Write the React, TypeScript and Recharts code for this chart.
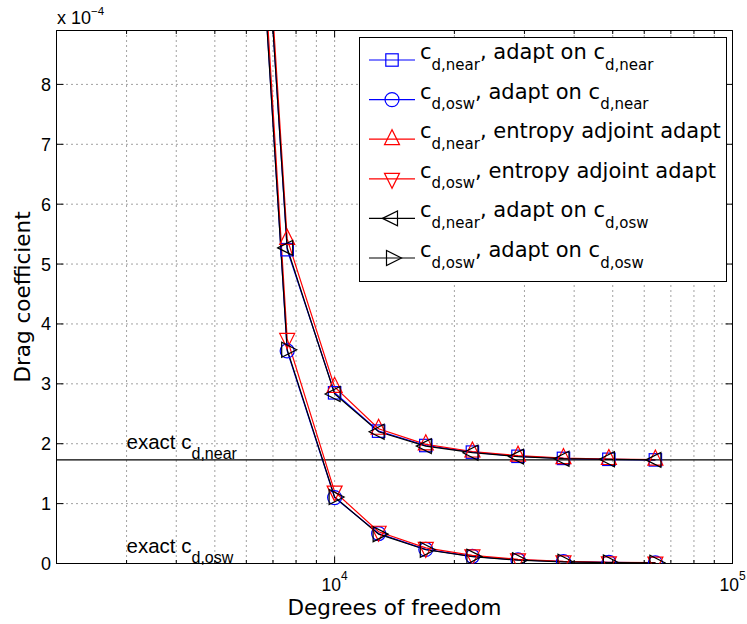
import React from 'react';
import { LineChart, Line, XAxis, YAxis, CartesianGrid, ReferenceLine, Legend } from 'recharts';

const SANS = '"Liberation Sans", Arial, Helvetica, sans-serif';
const WIDE = '"DejaVu Sans", Verdana, sans-serif';

// degrees of freedom at each adaptation step
const dof = [5900, 7600, 10000, 12900, 16950, 22200, 28900, 37600, 48900, 64000];

// drag coefficients, in units of 1e-4
const cdNearAdaptNear = [16.6, 5.24, 2.85, 2.21, 1.97, 1.86, 1.79, 1.755, 1.74, 1.73];
const cdOswAdaptNear = [15.3, 3.55, 1.1, 0.5, 0.235, 0.12, 0.06, 0.03, 0.018, 0.012];
const cdNearEntropy = [16.9, 5.42, 2.95, 2.25, 1.99, 1.87, 1.8, 1.76, 1.745, 1.735];
const cdOswEntropy = [15.6, 3.75, 1.2, 0.53, 0.26, 0.135, 0.07, 0.035, 0.02, 0.015];
const cdNearAdaptOsw = [16.5, 5.27, 2.83, 2.2, 1.96, 1.85, 1.785, 1.75, 1.74, 1.73];
const cdOswAdaptOsw = [15.2, 3.57, 1.11, 0.49, 0.23, 0.115, 0.055, 0.028, 0.016, 0.012];

const exactCdNear = 1.73;
const exactCdOsw = 0;

const xTicks = [
  2000, 3000, 4000, 5000, 6000, 7000, 8000, 9000, 10000,
  20000, 30000, 40000, 50000, 60000, 70000, 80000, 90000, 100000,
];
const xMajorTicks = [10000, 100000];
const yTicks = [0, 1, 2, 3, 4, 5, 6, 7, 8];
const xDomain: [number, number] = [2000, 100000];
const yDomain: [number, number] = [0, 8.9];

type Shape = 'square' | 'circle' | 'up' | 'down' | 'left' | 'right';

const series: { id: string; values: number[]; color: string; marker: Shape; name: string[] }[] = [
  { id: 'nearAdaptNear', values: cdNearAdaptNear, color: '#0000ff', marker: 'square', name: ['c', 'd,near', ', adapt on c', 'd,near'] },
  { id: 'oswAdaptNear', values: cdOswAdaptNear, color: '#0000ff', marker: 'circle', name: ['c', 'd,osw', ', adapt on c', 'd,near'] },
  { id: 'nearEntropy', values: cdNearEntropy, color: '#ff0000', marker: 'up', name: ['c', 'd,near', ', entropy adjoint adapt'] },
  { id: 'oswEntropy', values: cdOswEntropy, color: '#ff0000', marker: 'down', name: ['c', 'd,osw', ', entropy adjoint adapt'] },
  { id: 'nearAdaptOsw', values: cdNearAdaptOsw, color: '#000000', marker: 'left', name: ['c', 'd,near', ', adapt on c', 'd,osw'] },
  { id: 'oswAdaptOsw', values: cdOswAdaptOsw, color: '#000000', marker: 'right', name: ['c', 'd,osw', ', adapt on c', 'd,osw'] },
];

function Marker({ shape, cx, cy, color }: { shape: Shape; cx: number; cy: number; color: string }) {
  const style = { fill: 'none', stroke: color, strokeWidth: 1.2 };
  const a = 9.5; // apex distance
  const b = 5.5; // base distance
  const h = 7.5; // half base
  switch (shape) {
    case 'square':
      return <rect x={cx - 6.2} y={cy - 6.2} width={12.4} height={12.4} {...style} />;
    case 'circle':
      return <circle cx={cx} cy={cy} r={7} {...style} />;
    case 'up':
      return <polygon points={`${cx},${cy - a} ${cx - h},${cy + b} ${cx + h},${cy + b}`} {...style} />;
    case 'down':
      return <polygon points={`${cx},${cy + a} ${cx - h},${cy - b} ${cx + h},${cy - b}`} {...style} />;
    case 'left':
      return <polygon points={`${cx - a},${cy} ${cx + b},${cy - h} ${cx + b},${cy + h}`} {...style} />;
    default:
      return <polygon points={`${cx + a},${cy} ${cx - b},${cy - h} ${cx - b},${cy + h}`} {...style} />;
  }
}

// text made of alternating normal / subscript pieces
function RichText({ x, y, parts, size, subSize, shift, family }: any) {
  return (
    <text x={x} y={y} fontFamily={family} fontSize={size} fill="#000" style={{ whiteSpace: 'pre' }}>
      {parts.map((p: string, i: number) => {
        const sub = i % 2 === 1;
        const dy = i === 0 ? 0 : sub ? shift : -shift;
        return (
          <tspan key={i} dy={dy} fontSize={sub ? subSize : size}>
            {p}
          </tspan>
        );
      })}
    </text>
  );
}

function LegendBox() {
  return (
    <svg width={368} height={245} style={{ display: 'block' }}>
      <rect x={0.5} y={0.5} width={367} height={244} fill="#fff" stroke="#000" strokeWidth={1} />
      {series.map((s, i) => {
        const y = 23 + i * 39.6;
        return (
          <g key={s.id}>
            <line x1={10} x2={56} y1={y} y2={y} stroke={s.color} strokeWidth={1.2} />
            <Marker shape={s.marker} cx={33} cy={y} color={s.color} />
            <RichText x={61} y={y - 1} parts={s.name} size={21} subSize={15} shift={10.5} family={WIDE} />
          </g>
        );
      })}
    </svg>
  );
}

const BottomTick = (props: any) => {
  const { x, y, payload } = props;
  const major = xMajorTicks.includes(payload.value);
  return (
    <g>
      <line x1={x} x2={x} y1={y} y2={y - (major ? 7 : 3.5)} stroke="#000" />
      {major && (
        <text x={x} y={y + 27.5} textAnchor="middle" fontFamily={SANS} fontSize={17.5} fill="#000">
          10
          <tspan dy={-11} fontSize={12}>
            {Math.round(Math.log10(payload.value))}
          </tspan>
        </text>
      )}
    </g>
  );
};

const TopTick = (props: any) => {
  const { x, y, payload } = props;
  const major = xMajorTicks.includes(payload.value);
  return <line x1={x} x2={x} y1={y} y2={y + (major ? 7 : 3.5)} stroke="#000" />;
};

const LeftTick = (props: any) => {
  const { x, y, payload } = props;
  return (
    <text x={x} y={y + 6.5} textAnchor="end" fontFamily={SANS} fontSize={18} fill="#000">
      {payload.value}
    </text>
  );
};

const NoTick = () => <g />;

const exactLabel = (sub: string) => (props: any) => {
  const { viewBox } = props;
  const frac = Math.log10(3000 / xDomain[0]) / Math.log10(xDomain[1] / xDomain[0]);
  const x = viewBox.x + viewBox.width * frac;
  return <RichText x={x} y={viewBox.y - 11} parts={['exact c', sub]} size={20.5} subSize={16} shift={10} family={SANS} />;
};

const yLabel = (props: any) => {
  const { viewBox } = props;
  const cy = viewBox.y + viewBox.height / 2;
  return (
    <g>
      <text
        transform={`translate(29.5, ${cy}) rotate(-90)`}
        textAnchor="middle"
        fontFamily={WIDE}
        fontSize={21.5}
        fill="#000"
      >
        Drag coefficient
      </text>
      <text x={viewBox.x + viewBox.width + 0.5} y={viewBox.y - 6.5} fontFamily={SANS} fontSize={18} fill="#000">
        x 10
        <tspan dy={-9} fontSize={11.5}>
          −4
        </tspan>
      </text>
    </g>
  );
};

const xLabel = (props: any) => {
  const { viewBox } = props;
  return (
    <text x={viewBox.x + viewBox.width / 2} y={viewBox.y + 51.5} textAnchor="middle" fontFamily={WIDE} fontSize={21.5} fill="#000">
      Degrees of freedom
    </text>
  );
};

export default function App() {
  return (
    <div style={{ position: 'absolute', left: 0, top: 0, width: 747, height: 624, background: '#fff' }}>
      <LineChart width={747} height={624} margin={{ top: 29.5, right: 13.5, bottom: 0, left: 16.5 }}>
        <CartesianGrid stroke="#444" strokeDasharray="1 4" />
        <XAxis
          dataKey="dof"
          type="number"
          scale="log"
          domain={xDomain}
          allowDataOverflow
          ticks={xTicks}
          interval={0}
          height={60.5}
          tickSize={0}
          tickMargin={0}
          tickLine={false}
          tick={<BottomTick />}
          stroke="#000"
          label={xLabel}
        />
        <XAxis
          xAxisId="top"
          orientation="top"
          dataKey="dof"
          type="number"
          scale="log"
          domain={xDomain}
          allowDataOverflow
          ticks={xTicks}
          interval={0}
          height={1}
          tickSize={0}
          tickMargin={0}
          tickLine={false}
          tick={<TopTick />}
          stroke="#000"
        />
        <YAxis
          type="number"
          domain={yDomain}
          allowDataOverflow
          ticks={yTicks}
          interval={0}
          width={40}
          tickSize={-7}
          tickMargin={12.5}
          stroke="#000"
          tick={<LeftTick />}
          label={yLabel}
        />
        <YAxis
          yAxisId="right"
          orientation="right"
          type="number"
          domain={yDomain}
          allowDataOverflow
          ticks={yTicks}
          interval={0}
          width={1}
          tickSize={-7}
          stroke="#000"
          tick={<NoTick />}
        />
        <ReferenceLine y={exactCdNear} stroke="#000" strokeWidth={1.2} label={exactLabel('d,near')} />
        <ReferenceLine y={exactCdOsw} stroke="#000" strokeWidth={1} label={exactLabel('d,osw')} />
        {series.map((s) => (
          <Line
            key={s.id}
            data={dof.map((d, i) => ({ dof: d, cd: s.values[i] }))}
            dataKey="cd"
            type="linear"
            stroke={s.color}
            strokeWidth={1.2}
            isAnimationActive={false}
            activeDot={false}
            dot={(p: any) => <Marker key={`${s.id}-${p.index}`} shape={s.marker} cx={p.cx} cy={p.cy} color={s.color} />}
          />
        ))}
        <Legend
          layout="vertical"
          align="center"
          verticalAlign="middle"
          content={() => <LegendBox />}
          wrapperStyle={{ left: 359, top: 37, width: 368, height: 245 }}
        />
      </LineChart>
    </div>
  );
}
